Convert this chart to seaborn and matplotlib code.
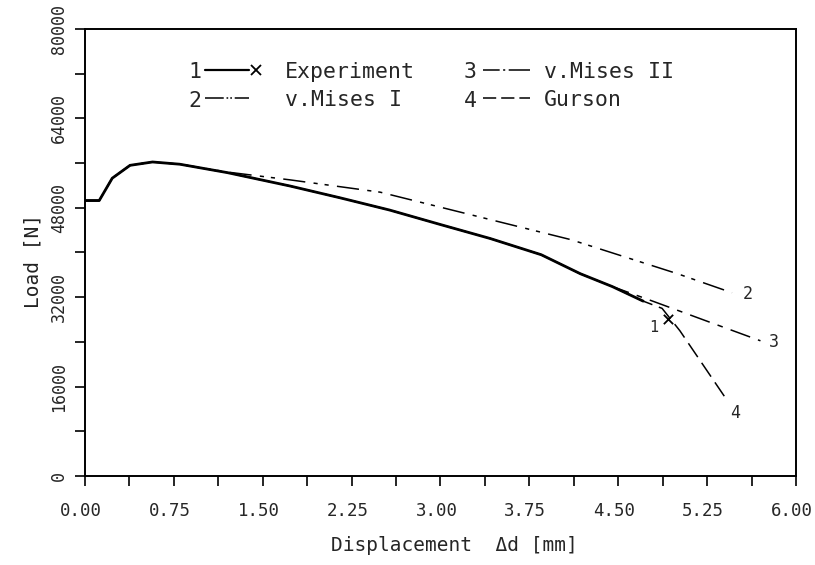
import matplotlib
matplotlib.use("Agg")
import matplotlib.pyplot as plt
import matplotlib.transforms as mtransforms
import seaborn as sns
import numpy as np
from matplotlib.lines import Line2D
from matplotlib.legend_handler import HandlerBase

# ---- data ----
exp_d = [0.0, 0.12, 0.23, 0.38, 0.57, 0.80, 1.20, 1.73, 2.15, 2.57, 3.00, 3.42, 3.85, 4.18, 4.45, 4.71]
exp_load = [49300, 49300, 53300, 55600, 56200, 55800, 54300, 51900, 49800, 47600, 45000, 42500, 39600, 36200, 33900, 31300]
exp_fail_d = [4.92]
exp_fail_load = [28100]

mises1_d = [0.0, 0.12, 0.23, 0.38, 0.57, 0.80, 1.20, 1.73, 2.49, 3.38, 4.10, 5.00, 5.46]
mises1_load = [49300, 49300, 53300, 55600, 56200, 55800, 54400, 53000, 50800, 46100, 42300, 36200, 32800]

mises2_d = [0.0, 0.12, 0.23, 0.38, 0.57, 0.80, 1.20, 1.73, 2.15, 2.57, 3.00, 3.42, 3.85, 4.18, 4.45, 4.79, 5.25, 5.70]
mises2_load = [49300, 49300, 53300, 55600, 56200, 55800, 54300, 51900, 49800, 47600, 45000, 42500, 39600, 36200, 33900, 31300, 27700, 24200]

gurson_d = [0.0, 0.12, 0.23, 0.38, 0.57, 0.80, 1.20, 1.73, 2.15, 2.57, 3.00, 3.42, 3.85, 4.18, 4.45, 4.71, 4.87, 5.02, 5.42]
gurson_load = [49300, 49300, 53300, 55600, 56200, 55800, 54300, 51900, 49800, 47600, 45000, 42500, 39600, 36200, 33900, 31300, 30000, 26000, 13500]

series_labels = ["Experiment", "v.Mises I", "v.Mises II", "Gurson"]
series_numbers = ["1", "2", "3", "4"]
x_ticks = [0.0, 0.75, 1.50, 2.25, 3.00, 3.75, 4.50, 5.25, 6.00]
y_ticks = [0, 16000, 32000, 48000, 64000, 80000]

# ---- style ----
sns.set_style("ticks")
plt.rcParams["font.family"] = ["DejaVu Sans Mono", "DejaVu Sans"]
plt.rcParams["lines.scale_dashes"] = False

fig = plt.figure(figsize=(8.15, 5.65), dpi=100)
ax = fig.add_axes([85 / 815, 1 - 476 / 565, 711 / 815, 447 / 565])

ls_m1 = (0, (16, 6, 3, 5, 3, 6))
ls_m2 = (0, (15, 6, 4, 6))
ls_g = (0, (12, 5))

sns.lineplot(x=mises1_d, y=mises1_load, ax=ax, color="black", lw=1.1,
             linestyle=ls_m1, estimator=None, sort=False)
sns.lineplot(x=mises2_d, y=mises2_load, ax=ax, color="black", lw=1.1,
             linestyle=ls_m2, estimator=None, sort=False)
sns.lineplot(x=gurson_d, y=gurson_load, ax=ax, color="black", lw=1.1,
             linestyle=ls_g, estimator=None, sort=False)
sns.lineplot(x=exp_d, y=exp_load, ax=ax, color="black", lw=2.0,
             estimator=None, sort=False)
sns.scatterplot(x=exp_fail_d, y=exp_fail_load, ax=ax, marker="x", color="black",
                s=45, linewidth=1.3)

# end labels of curves
ax.text(4.80, 26600, "1", fontsize=11, ha="center", va="center")
ax.text(5.59, 32600, "2", fontsize=12, ha="center", va="center")
ax.text(5.81, 23900, "3", fontsize=12, ha="center", va="center")
ax.text(5.49, 11200, "4", fontsize=12, ha="center", va="center")

ax.set_xlim(0, 6)
ax.set_ylim(0, 80000)
ax.set_xticks(x_ticks)
ax.set_xticklabels([f"{v:.2f}" for v in x_ticks])
ax.set_xticks(np.arange(0.375, 6, 0.75), minor=True)
ax.set_yticks(y_ticks)
ax.set_yticklabels([str(v) for v in y_ticks], rotation=90, va="center")
ax.set_yticks(np.arange(8000, 80000, 16000), minor=True)

ax.tick_params(axis="both", which="both", direction="out", length=7, width=1.2,
               color="black", top=False, right=False)
ax.tick_params(axis="x", which="major", labelsize=12.5, pad=12)
ax.tick_params(axis="y", which="major", labelsize=12, pad=5)
shift = mtransforms.ScaledTranslation(-4 / 100, 0, fig.dpi_scale_trans)
for lab in ax.get_xticklabels():
    lab.set_transform(lab.get_transform() + shift)
for sp in ax.spines.values():
    sp.set_visible(True)
    sp.set_linewidth(1.4)
    sp.set_color("black")

ax.set_xlabel("Displacement  \u0394d [mm]", fontsize=14)
ax.xaxis.set_label_coords(0.52, -0.135)
ax.set_ylabel("Load [N]", fontsize=14, color="#222222")
ax.yaxis.set_label_coords(-0.06, 0.48)


# legend
class HandlerEndX(HandlerBase):
    def create_artists(self, legend, orig_handle, xdescent, ydescent,
                       width, height, fontsize, trans):
        y = height / 2 - ydescent
        line = Line2D([-xdescent, width - xdescent], [y, y], color="black",
                      lw=1.6, transform=trans)
        mark = Line2D([width - xdescent + 5], [y], marker="x", color="black",
                      markersize=7, markeredgewidth=1.3, lw=0, transform=trans)
        return [line, mark]


h_exp = Line2D([0], [0], color="black", lw=1.6)
h_m1 = Line2D([0], [0], color="black", lw=1.1, linestyle=(0, (13.5, 2, 1.2, 1.5, 1.2, 2, 20)))
h_m2 = Line2D([0], [0], color="black", lw=1.1, linestyle=(0, (12, 2.5, 1.5, 2.5, 20)))
h_g = Line2D([0], [0], color="black", lw=1.1, linestyle=(0, (9.5, 3.6)))

fs_leg = 15.5
leg1 = ax.legend([h_exp, h_m1], series_labels[:2], frameon=False, loc="upper left",
                 bbox_to_anchor=(0.1688, 0.9262), borderpad=0, borderaxespad=0,
                 handlelength=2.05, handletextpad=1.67, labelspacing=0.35,
                 fontsize=fs_leg, handler_map={h_exp: HandlerEndX()})
ax.add_artist(leg1)
x_num2 = (470 - 85) / 711
x_leg2 = (483 - 85) / 711
leg2 = ax.legend([h_m2, h_g], series_labels[2:], frameon=False, loc="upper left",
                 bbox_to_anchor=(x_leg2, 0.9262), borderpad=0, borderaxespad=0,
                 handlelength=2.2, handletextpad=0.65, labelspacing=0.35,
                 fontsize=fs_leg)

row_y = [0.904, 0.839]
ax.text(0.155, row_y[0], series_numbers[0], transform=ax.transAxes, fontsize=fs_leg, ha="center", va="center")
ax.text(0.155, row_y[1], series_numbers[1], transform=ax.transAxes, fontsize=fs_leg, ha="center", va="center")
ax.text(x_num2, row_y[0], series_numbers[2], transform=ax.transAxes, fontsize=fs_leg, ha="center", va="center")
ax.text(x_num2, row_y[1], series_numbers[3], transform=ax.transAxes, fontsize=fs_leg, ha="center", va="center")

fig.savefig("out.png", dpi=100)
